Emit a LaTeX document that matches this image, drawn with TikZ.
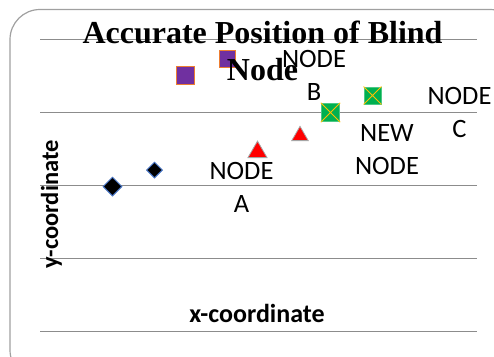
\documentclass[tikz,border=0pt]{standalone}
\usepackage{fontspec}
\setmainfont{Liberation Serif}
\setsansfont{Carlito}
\usetikzlibrary{shapes.geometric}
\definecolor{gridc}{HTML}{8C8C8C}
\definecolor{framec}{HTML}{A0A0A0}
\definecolor{purp}{HTML}{7030A0}
\definecolor{orng}{HTML}{ED7D31}
\definecolor{grn}{HTML}{00B050}
\definecolor{yel}{HTML}{FFC000}
\definecolor{blu}{HTML}{4472C4}
\tikzset{
  grid line/.style={draw=gridc, line width=1pt},
  psq/.style={draw=orng, fill=purp, line width=1pt, minimum size=#1, inner sep=0pt},
  gsq/.style={draw=grn!70!white, fill=grn, line width=0.8pt, minimum size=#1, inner sep=0pt},
  xmark/.style={draw=yel, line width=1pt},
  rtri/.style={regular polygon, regular polygon sides=3, draw=gray!70, fill=red, line width=0.8pt, minimum size=#1, inner sep=0pt},
  bdia/.style={diamond, draw=blu, fill=black, line width=1pt, minimum size=#1, inner sep=0pt, aspect=1},
  lbl/.style={font=\fontsize{26.5}{32.5}\sffamily, align=center, inner sep=0pt},
  ttl/.style={font=\fontsize{32}{37}\bfseries, align=center, inner sep=0pt},
  axl/.style={font=\fontsize{#1}{28}\sffamily\bfseries, inner sep=0pt}
}
\begin{document}
\begin{tikzpicture}[x=1pt,y=-1pt]
\useasboundingbox (0,0) rectangle (494,356);
% frame
\draw[framec, line width=1.2pt, rounded corners=30pt] (10,9.5) -- (520,9.5) -- (520,380) -- (10,380) -- cycle;
% grid
\foreach \yy in {39,112,185.5,258.5,331.5}{
  \draw[grid line] (40,\yy) -- (477,\yy);
}
% markers
\node[psq=18pt] (p1) at (185,75.5) {};
\node[psq=16.5pt] (p2) at (227.5,59) {};
\node[gsq=18.5pt] (g1) at (330.5,112.5) {};
\draw[xmark] (g1.north west) -- (g1.south east) (g1.north east) -- (g1.south west);
\node[gsq=17pt] (g2) at (372.5,95.5) {};
\draw[xmark] (g2.north west) -- (g2.south east) (g2.north east) -- (g2.south west);
\node[rtri=22pt, anchor=south] (t1) at (257.5,158) {};
\node[rtri=19pt, anchor=south] (t2) at (300,141) {};
\node[bdia=19pt] (d1) at (112.5,186.5) {};
\node[bdia=16pt] (d2) at (154.5,170) {};
% title
\node[ttl, anchor=base] (title) at (262.5,80) {Accurate Position of Blind\\Node};
% labels
\node[lbl, anchor=base] (la) at (241.5,212) {NODE\\A};
\node[lbl, anchor=base] (lb) at (314,100) {NODE\\B};
\node[lbl, anchor=base] (lc) at (459.5,137) {NODE\\C};
\node[lbl, anchor=base] (ln) at (387,174) {NEW\\NODE};
% axis labels
\node[axl=24.5, rotate=90] (ya) at (51.5,204.5) {y-coordinate};
\node[axl=26, anchor=base] (xa) at (257,322) {x-coordinate};
\end{tikzpicture}
\end{document}
